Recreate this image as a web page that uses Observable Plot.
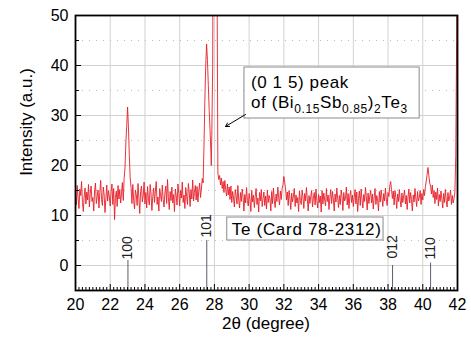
<!DOCTYPE html>
<html>
<head>
<meta charset="utf-8">
<script src="https://cdn.jsdelivr.net/npm/d3@7"></script>
<script src="https://cdn.jsdelivr.net/npm/@observablehq/plot@0.6"></script>
<style>
  html, body { margin: 0; padding: 0; background: #fff; }
  #chart svg { display: block; }
</style>
</head>
<body>
<div id="chart"></div>
<script>
// ---- data ----
const scanStart = 20.0;
const scanStep = 0.05;
const intensity = [
  // 20
  14.2, 12.1, 16.0, 13.5, 11.4, 15.3, 14.0, 16.8, 12.6, 10.8, 13.9, 15.5, 12.3, 14.7, 13.1, 16.2, 11.7, 14.4, 15.9, 12.8,
  // 21
  13.6, 10.9, 14.9, 16.5, 12.4, 13.8, 15.1, 11.5, 14.6, 17.0, 13.2, 12.0, 15.7, 14.1, 10.6, 13.4, 16.1, 12.9, 15.0, 13.7,
  // 22
  11.9, 14.8, 16.3, 12.2, 15.4, 9.2, 13.6, 14.9, 11.8, 16.0, 13.3, 15.2, 12.5, 14.4, 16.6, 13.0, 17.4, 19.5, 24.5, 28.0,
  // 23
  31.7, 27.5, 22.0, 17.5, 15.6, 12.4, 16.2, 13.0, 11.3, 15.1, 14.2, 12.0, 16.4, 13.5, 10.4, 14.8, 15.9, 12.7, 13.9, 16.7,
  // 24
  12.3, 14.6, 11.5, 15.8, 13.4, 12.1, 16.2, 14.3, 11.0, 13.8, 15.5, 12.6, 14.9, 16.8, 12.2, 13.7, 10.9, 15.4, 14.0, 12.8,
  // 25
  16.1, 13.2, 11.7, 14.5, 15.9, 12.4, 17.2, 13.6, 11.2, 14.8, 13.0, 15.7, 12.5, 14.2, 10.8, 15.3, 13.9, 12.1, 16.3, 14.4,
  // 26
  11.9, 15.0, 13.5, 16.7, 12.6, 14.1, 11.4, 15.6, 13.8, 12.2, 16.4, 14.7, 11.8, 15.2, 13.3, 17.1, 12.9, 14.6, 16.0, 13.1,
  // 27
  15.8, 12.7, 14.9, 16.5, 13.6, 15.3, 17.4, 16.5, 24.0, 33.0, 40.0, 44.3, 41.0, 36.0, 31.0, 27.0, 22.5, 26.0, 40.0, 90.0,
  // 28
  160, 150, 120, 60, 18.5, 17.2, 18.0, 16.1, 17.5, 15.4, 16.8, 14.6, 17.0, 15.2, 13.9, 16.3, 14.1, 15.7, 13.2, 15.9,
  // 29
  12.6, 14.8, 13.5, 11.7, 15.2, 14.0, 12.3, 16.0, 13.1, 11.5, 14.6, 12.8, 15.3, 13.7, 10.9, 14.2, 12.5, 15.6, 13.0, 11.9,
  // 30
  14.4, 13.2, 10.8, 15.0, 12.7, 14.1, 11.6, 13.8, 15.4, 12.2, 13.5, 10.7, 14.6, 12.9, 15.2, 11.8, 13.4, 14.7, 12.0, 13.9,
  // 31
  11.3, 15.1, 12.6, 14.0, 13.3, 10.9, 14.8, 12.4, 15.5, 13.0, 11.6, 14.3, 12.8, 15.7, 13.6, 12.1, 14.9, 13.2, 15.4, 16.2,
  // 32
  17.8, 16.6, 15.3, 13.1, 14.7, 12.0, 15.0, 13.4, 11.2, 14.5, 12.7, 13.9, 15.4, 11.8, 14.1, 12.5, 13.6, 10.8, 14.9, 13.0,
  // 33
  12.2, 15.1, 13.7, 11.4, 14.4, 12.9, 15.6, 13.3, 10.9, 14.0, 12.4, 13.8, 15.0, 11.7, 13.5, 14.6, 12.1, 15.3, 13.0, 11.5,
  // 34
  14.2, 12.6, 13.9, 10.7, 15.0, 12.3, 14.5, 13.1, 11.9, 15.4, 12.8, 14.1, 11.2, 13.6, 15.2, 12.4, 14.8, 13.3, 10.9, 14.3,
  // 35
  12.7, 15.5, 13.4, 11.6, 14.0, 12.2, 15.1, 13.8, 11.0, 14.6, 12.9, 13.5, 15.7, 12.1, 14.4, 11.4, 13.9, 15.0, 12.6, 14.1,
  // 36
  11.8, 13.6, 15.2, 12.3, 14.7, 10.8, 13.4, 14.9, 12.0, 15.3, 13.2, 11.5, 14.2, 12.8, 15.6, 13.7, 11.1, 14.5, 12.4, 13.9,
  // 37
  15.0, 12.5, 14.3, 11.3, 13.7, 15.4, 12.2, 14.0, 13.1, 10.9, 14.8, 12.7, 15.1, 13.5, 11.8, 14.4, 12.9, 15.5, 13.3, 12.0,
  // 38
  14.6, 13.8, 15.9, 16.8, 15.2, 13.4, 14.9, 12.1, 15.0, 13.6, 11.4, 14.3, 12.8, 15.2, 13.0, 11.7, 14.5, 12.6, 13.9, 15.1,
  // 39
  12.3, 14.0, 11.2, 13.7, 15.3, 12.5, 14.6, 13.2, 10.9, 14.1, 12.7, 15.4, 13.5, 11.8, 14.8, 12.9, 13.6, 15.0, 12.2, 14.4,
  // 40
  13.1, 15.2, 14.0, 15.8, 16.9, 18.2, 19.6, 18.0, 16.5, 15.9, 14.3, 16.1, 13.6, 15.0, 12.4, 14.7, 13.2, 15.5, 11.9, 14.2,
  // 41
  12.8, 14.9, 13.3, 11.5, 14.4, 12.6, 15.2, 13.0, 11.7, 14.6, 12.9, 13.8, 15.1, 12.2, 14.0, 12.5, 13.4, 14.7, 22.0, 45.0,
  // 42
  80
];
// extra point read at the dip between the two strong peaks
const detail2Theta    = [27.82];
const detailIntensity = [20.0];

// Te reference card 78-2312
const teHkl = ["100", "101", "012", "110"];
const tePos = [23.02, 27.56, 38.26, 40.45];
const teStickTop = [1.0, 5.0, 0.0, 0.5];
const teLabelBase = [1.2, 5.6, 1.4, 1.2];

// axes
const xTicks = [20, 22, 24, 26, 28, 30, 32, 34, 36, 38, 40, 42];
const xGrid = [22, 24, 26, 28, 30, 32, 34, 36, 38, 40];
const xMinor = d3.range(100, 211, 1).map(v => v / 5).filter(v => v % 2 !== 0);
const yTicks = [0, 10, 20, 30, 40, 50];
const yGridSolid = [0, 10, 20, 30, 40];
const yGridDotted = [5, 15, 25, 35, 45];
const yMinor = [-5, 5, 15, 25, 35, 45];
const xDomain = [20, 42];
const yDomain = [-5, 50];

// annotations
const boxPeak = {x1: 29.73, x2: 39.82, y1: 29.4, y2: 39.6};
const boxTe = {x1: 28.74, x2: 37.74, y1: 5.0, y2: 9.6};
const arrowPeak = {x1: 29.79, y1: 30.2, x2: 28.64, y2: 27.8};

// ---- build table ----
const scan = intensity.map((v, i) => ({t: +(scanStart + i * scanStep).toFixed(2), v}))
  .concat(detail2Theta.map((t, i) => ({t, v: detailIntensity[i]})))
  .sort((a, b) => a.t - b.t);
const card = teHkl.map((h, i) => ({h, pos: tePos[i], top: teStickTop[i], lab: teLabelBase[i]}));

const font = "'Liberation Sans', Arial, Helvetica, sans-serif";
const pxY = 5;       // px per y unit (for tick lengths)
const pxX = 382 / 22;

const plot = Plot.plot({
  width: 471,
  height: 339,
  marginLeft: 75,
  marginRight: 14,
  marginTop: 15,
  marginBottom: 49,
  style: {fontFamily: font, fontSize: "16px", color: "black", background: "white"},
  x: {domain: xDomain, ticks: xTicks, tickSize: 0, tickPadding: 8, tickFormat: d3.format("d"), label: null},
  y: {domain: yDomain, ticks: yTicks, tickSize: 0, tickPadding: 7, tickFormat: d3.format("d"), label: null},
  marks: [
    Plot.ruleX(xGrid, {stroke: "#d2d2d2", strokeWidth: 1}),
    Plot.ruleY(yGridSolid, {stroke: "#d2d2d2", strokeWidth: 1}),
    Plot.ruleY(yGridDotted, {stroke: "#bdbdbd", strokeWidth: 1, strokeDasharray: "1,6"}),
    Plot.line(scan, {x: "t", y: "v", stroke: "#e61e28", strokeWidth: 0.9, clip: true}),
    Plot.ruleX(card, {x: "pos", y1: yDomain[0], y2: "top", stroke: "#5b5f6e", strokeWidth: 1}),
    Plot.text(card, {x: "pos", y: "lab", text: "h", rotate: -90, textAnchor: "start", fontSize: 14, fill: "#222"}),
    Plot.rect([boxPeak], {x1: "x1", x2: "x2", y1: "y1", y2: "y2", fill: "white", stroke: "#8a8a8a", strokeWidth: 1}),
    Plot.rect([boxTe], {x1: "x1", x2: "x2", y1: "y1", y2: "y2", fill: "white", stroke: "#8a8a8a", strokeWidth: 1}),
    Plot.arrow([arrowPeak], {x1: "x1", y1: "y1", x2: "x2", y2: "y2", stroke: "black", strokeWidth: 1, headLength: 6}),
    // inward ticks
    Plot.ruleX(xMinor, {y1: yDomain[0], y2: yDomain[0] + 3 / pxY, stroke: "black", strokeWidth: 1}),
    Plot.ruleX(xTicks, {y1: yDomain[0], y2: yDomain[0] + 6 / pxY, stroke: "black", strokeWidth: 1}),
    Plot.ruleY(yTicks, {x1: xDomain[0], x2: xDomain[0] + 6 / pxX, stroke: "black", strokeWidth: 1}),
    Plot.ruleY(yMinor, {x1: xDomain[0], x2: xDomain[0] + 4 / pxX, stroke: "black", strokeWidth: 1}),
    Plot.frame({stroke: "black", strokeWidth: 1.8})
  ]
});

// text annotations with subscripts, placed through the plot's scales
const sx = plot.scale("x"), sy = plot.scale("y");
const svg = d3.select(plot);
const g = svg.append("g").attr("font-family", font).attr("fill", "black").attr("text-anchor", "start");

const px0 = sx.apply(boxPeak.x1) + 7;
const py0 = sy.apply(boxPeak.y2);
g.append("text").attr("x", px0).attr("y", py0 + 21).attr("font-size", 17)
  .attr("letter-spacing", 0.6).text("(0 1 5) peak");
const t2 = g.append("text").attr("x", px0).attr("y", py0 + 41).attr("font-size", 17)
  .attr("letter-spacing", 0.6);
const parts = [["of (Bi", 0], ["0.15", 1], ["Sb", 0], ["0.85", 1], [")", 0], ["2", 1], ["Te", 0], ["3", 1]];
let prevSub = false;
parts.forEach(([s, sub]) => {
  const ts = t2.append("tspan").text(s);
  if (sub) ts.attr("font-size", 12).attr("dy", prevSub ? 0 : 5);
  else ts.attr("dy", prevSub ? -5 : 0);
  prevSub = !!sub;
});

g.append("text")
  .attr("x", sx.apply(boxTe.x1) + 5)
  .attr("y", sy.apply(boxTe.y1) - 5)
  .attr("font-size", 17)
  .attr("letter-spacing", 0.7)
  .text("Te (Card 78-2312)");

// axis titles
g.append("text")
  .attr("x", (sx.apply(xDomain[0]) + sx.apply(xDomain[1])) / 2)
  .attr("y", 329)
  .attr("text-anchor", "middle")
  .attr("font-size", 17)
  .text("2θ (degree)");
g.append("text")
  .attr("transform", "translate(32,122) rotate(-90)")
  .attr("text-anchor", "middle")
  .attr("font-size", 17)
  .text("Intensity (a.u.)");

document.getElementById("chart").appendChild(plot);
</script>
</body>
</html>
